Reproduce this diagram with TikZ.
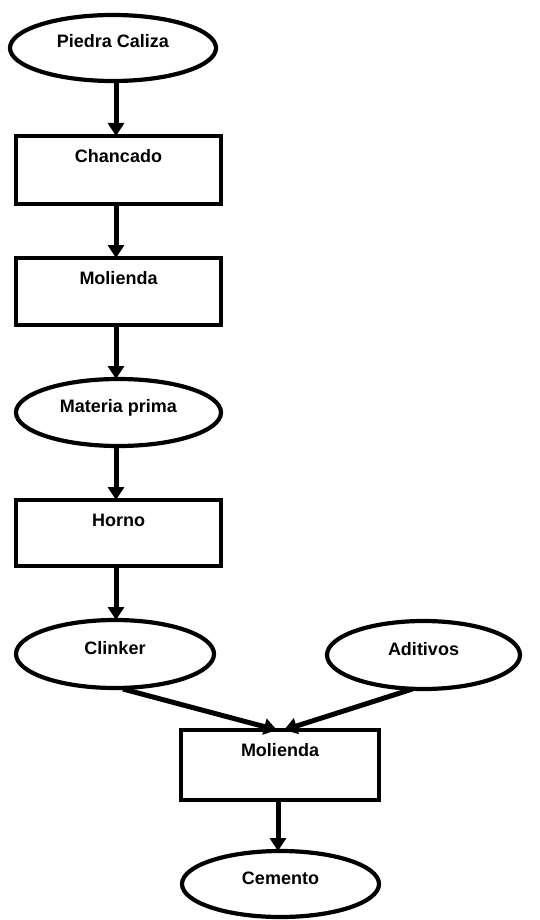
\documentclass[tikz,border=0pt]{standalone}
\usepackage{fontspec}
\setmainfont{Liberation Sans}
\usetikzlibrary{shapes.geometric,arrows.meta,calc}
\begin{document}
\begin{tikzpicture}[x=1pt,y=-1pt,
  every node/.style={font=\fontsize{18}{21}\selectfont\bfseries, inner sep=0pt, outer sep=0pt, line width=4.2pt, draw=black},
  ellip/.style={ellipse, text height=13pt, text depth=13pt},
  procbox/.style={rectangle, anchor=north, text height=26.5pt, text depth=41.5pt},
  arr/.style={line width=5pt, -{Triangle[length=13pt,width=16pt]}}]
\useasboundingbox (0,0) rectangle (539,920);
\node[ellip, minimum width=206pt, minimum height=66pt] (pc) at (113,48) {Piedra Caliza};
\node[procbox, minimum width=205pt] (ch) at (118.5,136) {Chancado};
\node[procbox, minimum width=205pt, text height=26pt, text depth=41pt] (mo1) at (118.5,258) {Molienda};
\node[ellip, minimum width=205pt, minimum height=67pt] (mp) at (118.5,412.5) {Materia prima};
\node[procbox, minimum width=205pt, text height=26pt, text depth=40pt] (ho) at (118.5,500) {Horno};
\node[ellip, minimum width=198pt, minimum height=68pt] (cl) at (115,654) {Clinker};
\node[ellip, minimum width=193pt, minimum height=68pt] (ad) at (423.5,655) {Aditivos};
\node[procbox, minimum width=198pt, text height=26.5pt, text depth=43.5pt] (mo2) at (280,730) {Molienda};
\node[ellip, minimum width=197pt, minimum height=66pt] (ce) at (280.5,884) {Cemento};
\coordinate (ax) at (116,0);
\coordinate (bx) at (278,0);
\draw[arr] (pc.south -| ax) -- (ch.north -| ax);
\draw[arr] (ch.south -| ax) -- (mo1.north -| ax);
\draw[arr] (mo1.south -| ax) -- (mp.north -| ax);
\draw[arr] (mp.south -| ax) -- (ho.north -| ax);
\draw[arr] (ho.south -| ax) -- (cl.north -| ax);
\draw[arr] (mo2.south -| bx) -- (ce.north -| bx);
\coordinate (tl) at ($(mo2.north)+(-3,0)$);
\coordinate (tr) at ($(mo2.north)+(4,0)$);
\draw[arr] ($(cl.south)+(8,1)$) -- (tl);
\draw[arr] ($(ad.south)+(-11,0)$) -- (tr);
\end{tikzpicture}
\end{document}
